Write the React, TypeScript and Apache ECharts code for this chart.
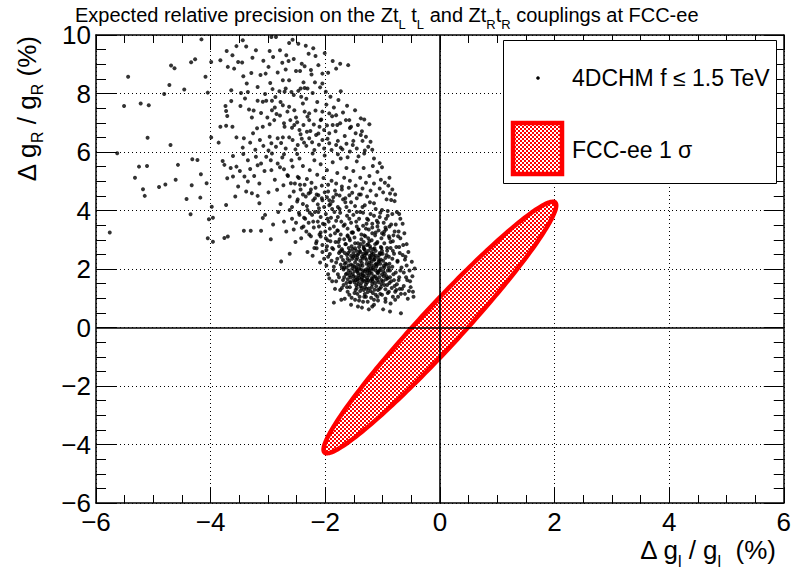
import { useEffect, useRef } from "react";
import * as echarts from "echarts";

// ---------- axis ranges ----------
const X_MIN = -6;
const X_MAX = 6;
const Y_MIN = -6;
const Y_MAX = 10;
const TICK_STEP = 2;

// ---------- FCC-ee 1 sigma ellipse (centre, sigma_x, sigma_y, correlation) ----------
const ellipseCenter = [0, 0];
const ellipseSigmaX = 2.03;
const ellipseSigmaY = 4.3;
const ellipseRho = 0.9705;

// ---------- 4DCHM scan points [dgL/gL, dgR/gR] in % ----------
const sparseLeft = [
  [-5.44, 8.57], [-5.76, 3.25], [-5.63, 5.96], [-5.51, 7.57], [-5.22, 7.66], [-5.08, 7.6], [-5.1, 6.49],
  [-5.25, 5.5], [-5.11, 5.52], [-5.32, 5.12], [-5.18, 4.73], [-5.15, 4.5], [-4.9, 4.8], [-4.79, 4.89],
  [-4.72, 8.29], [-4.69, 8.96], [-4.63, 8.86], [-4.81, 7.98], [-4.7, 6.24], [-4.57, 5.56], [-4.61, 5.05],
  [-4.46, 8.14], [-4.42, 4.39], [-4.35, 3.87], [-4.34, 9.07], [-4.27, 9.17], [-4.32, 5.75], [-4.33, 4.86],
  [-4.23, 5.73], [-4.17, 5.24], [-4.18, 4.44], [-4.16, 9.85], [-4.09, 8.57], [-4.07, 4.93], [-4.05, 8.03],
  [-4.05, 3.05], [-4.03, 3.7], [-3.99, 9.08], [-3.99, 6.5], [-3.98, 4.13], [-3.96, 3.75], [-3.96, 2.93],
];

const upperCloud = [
  [-3.83, 9.14], [-3.72, 9.45], [-3.7, 8.91], [-3.59, 8.85], [-3.52, 9.08], [-3.45, 9.06], [-3.44, 9.82],
  [-3.38, 9.61], [-3.43, 8.59], [-3.37, 8.34], [-3.29, 8.7], [-3.13, 8.63], [-3.04, 8.68], [-2.97, 9.45],
  [-2.94, 9.93], [-2.86, 9.93], [-2.79, 9.48], [-2.68, 9.31], [-2.64, 9.11], [-2.63, 9.73], [-2.57, 9.84],
  [-2.47, 9.7], [-2.34, 9.63], [-2.29, 9.36], [-2.17, 9.28], [-2.51, 8.77], [-2.44, 8.77], [-2.74, 8.45],
  [-2.63, 8.45], [-2.38, 8.38], [-2.25, 8.8], [-2.24, 8.65], [-2.05, 8.68], [-2.18, 8.38], [-2.05, 8.34],
  [-1.87, 9.11], [-1.81, 8.85], [-1.74, 9.02], [-1.6, 8.97], [-1.73, 8.08], [-2.92, 8.15], [-2.8, 8.08],
  [-2.71, 8.06], [-2.59, 8.05], [-2.43, 8.17], [-2.36, 8.19], [-2.31, 8.17], [-3.64, 8.11], [-3.47, 8.02],
  [-1.99, 8.06], [-3.74, 7.57], [-3.64, 7.74], [-3.73, 7.4], [-3.71, 7.23], [-3.83, 6.86], [-3.73, 6.9],
  [-3.62, 6.86], [-3.86, 6.32], [-3.55, 6.5], [-3.42, 6.47], [-3.48, 7.57], [-3.4, 7.83], [-3.33, 7.45],
  [-3.28, 7.18], [-3.18, 7.75], [-3.09, 7.72], [-3.03, 7.75], [-2.93, 7.75], [-2.93, 7.43], [-2.85, 7.3],
  [-2.89, 7.09], [-2.97, 6.95], [-3.09, 6.86], [-3.19, 6.81], [-3.26, 6.64], [-3.14, 6.41], [-2.97, 6.52],
  [-2.94, 6.3], [-2.83, 6.47], [-2.74, 6.5], [-2.63, 6.5], [-2.71, 6.86], [-2.61, 7.09], [-2.51, 7.18],
  [-2.74, 7.6], [-2.63, 7.55], [-2.54, 7.43], [-2.42, 7.89], [-2.39, 7.66], [-2.28, 7.09], [-2.2, 6.94],
  [-2.1, 6.86], [-2.02, 6.75], [-1.93, 6.64], [-1.87, 6.92], [-1.79, 6.92], [-1.64, 7.09], [-1.58, 7.09],
  [-1.48, 7.43], [-1.38, 7.15], [-1.32, 7.11], [-1.23, 6.95], [-1.55, 6.86], [-1.47, 6.64], [-1.38, 6.58],
  [-1.25, 6.18], [-1.35, 6.38], [-1.52, 6.24], [-1.7, 6.09], [-1.81, 6.24], [-1.93, 6.3], [-2.05, 6.41],
  [-2.16, 6.58], [-2.28, 6.47], [-2.37, 6.32], [-2.48, 6.24], [-2.08, 7.09], [-2.32, 6.69], [-2.45, 6.75],
  [-2.54, 6.92], [-2.36, 7.38], [-2.28, 7.32], [-2.05, 7.38], [-1.93, 7.32], [-1.81, 7.26],
  [-3.62, 9.31], [-3.55, 9.62], [-3.27, 9.22], [-3.21, 9.48], [-3.08, 9.12], [-2.99, 8.91], [-2.91, 9.25],
  [-2.83, 8.72], [-2.75, 9.05], [-2.69, 8.82], [-2.55, 9.18], [-2.41, 9.02], [-2.36, 8.93], [-2.21, 9.55],
  [-2.12, 8.97], [-2.01, 9.38], [-1.95, 8.71], [-3.35, 8.05], [-3.18, 8.22], [-3.05, 7.98], [-2.96, 8.36],
  [-2.87, 7.88], [-2.78, 7.71], [-2.69, 8.17], [-2.55, 7.95], [-2.47, 8.09], [-2.33, 7.82], [-2.22, 8.02],
  [-2.14, 7.71], [-2.09, 8.21], [-1.98, 7.62], [-1.91, 7.89], [-1.85, 7.52], [-1.77, 7.78], [-1.69, 7.35],
  [-1.62, 7.58], [-3.25, 7.42], [-3.12, 7.33], [-3.01, 7.18], [-2.88, 7.52], [-2.79, 7.25], [-2.72, 6.98],
  [-2.66, 7.38], [-2.58, 6.83], [-2.49, 7.02], [-2.43, 6.61], [-2.38, 6.92], [-2.31, 7.21], [-2.26, 6.72],
  [-2.17, 7.42], [-2.12, 6.63], [-2.07, 7.11], [-1.97, 6.91], [-1.88, 7.22], [-1.82, 6.71], [-1.74, 6.98],
  [-1.66, 6.55], [-1.57, 6.82], [-1.51, 6.38], [-1.43, 6.92], [-1.36, 6.71], [-1.29, 6.52], [-1.21, 6.35],
  [-3.44, 6.15], [-3.31, 6.32], [-3.22, 6.08], [-3.08, 6.21], [-2.99, 6.05], [-2.86, 6.18], [-2.77, 6.31],
  [-2.69, 6.12], [-2.57, 6.41], [-2.52, 6.09], [-2.41, 6.45], [-2.33, 6.21], [-2.23, 6.33], [-2.19, 6.07],
  [-2.11, 6.25], [-2.02, 6.12], [-1.96, 6.45], [-1.89, 6.07], [-1.78, 6.38], [-1.73, 6.15], [-1.63, 6.28],
  [-1.57, 6.02], [-1.45, 6.12], [-1.31, 6.05], [-1.18, 6.08],
];

const middleBand = [
  [-3.79, 5.69], [-3.76, 5.56], [-3.71, 5.1], [-3.61, 5.16], [-3.55, 5.5], [-3.41, 5.16], [-3.35, 4.99],
  [-3.28, 4.59], [-3.18, 4.5], [-3.61, 5.86], [-3.43, 5.93], [-3.21, 5.84], [-3.12, 5.61], [-3.03, 5.84],
  [-2.94, 5.38], [-2.93, 5.95], [-2.83, 5.61], [-2.75, 5.81], [-2.72, 5.41], [-2.65, 5.18], [-2.6, 4.93],
  [-2.57, 5.5], [-2.49, 5.93], [-2.46, 5.11], [-3.73, 4.19], [-3.57, 4.48], [-3.38, 4.65],
  [-3.52, 4.82], [-3.31, 5.42], [-3.24, 5.18], [-3.15, 4.92], [-3.06, 5.35], [-2.99, 4.62], [-2.88, 5.05],
  [-2.84, 4.71], [-2.79, 5.48], [-2.73, 4.86], [-2.66, 5.21], [-2.62, 4.48], [-2.59, 5.72], [-2.53, 4.92],
  [-2.48, 5.15], [-2.43, 4.72], [-2.39, 5.52], [-2.36, 4.88], [-2.32, 5.08], [-2.29, 4.58], [-2.27, 5.38],
  [-2.24, 4.95], [-2.19, 5.72], [-2.17, 4.78], [-2.14, 5.22], [-2.12, 4.52], [-2.08, 5.58], [-2.06, 4.85],
  [-2.03, 5.11], [-2.01, 4.62], [-1.97, 5.38], [-1.95, 4.88], [-1.93, 4.35], [-1.89, 5.02], [-1.87, 5.65],
  [-1.83, 4.68], [-1.81, 4.92], [-1.79, 5.28], [-1.75, 4.51], [-1.73, 5.78], [-1.71, 4.82], [-1.67, 5.12],
  [-1.65, 4.42], [-1.63, 5.45], [-1.59, 4.78], [-1.57, 5.02], [-1.53, 4.61], [-1.51, 5.35], [-1.47, 4.85],
  [-1.45, 5.68], [-1.41, 4.55], [-1.39, 5.12], [-1.35, 4.75], [-1.33, 5.45], [-1.29, 4.95], [-1.27, 4.48],
  [-1.23, 5.18], [-1.21, 4.68], [-1.17, 5.52], [-1.15, 4.92], [-1.11, 4.52], [-1.09, 5.32], [-1.05, 4.75],
  [-1.03, 5.05], [-0.99, 4.62], [-0.96, 4.95], [-0.93, 4.38], [-0.9, 4.85], [-0.87, 4.58], [-0.83, 4.72],
  [-0.78, 4.55], [-1.32, 5.95], [-1.42, 5.85], [-1.61, 5.82], [-1.78, 5.92], [-2.01, 5.88], [-2.22, 5.95],
  [-2.45, 5.78], [-2.72, 5.92], [-2.95, 5.72], [-3.18, 5.55], [-3.35, 5.72], [-3.49, 5.35], [-3.65, 5.45],
  [-1.15, 5.78], [-1.05, 5.62], [-1.01, 5.48], [-0.88, 5.12], [-0.85, 4.36],
];

const lowerBand = [
  [-2.45, 3.85], [-2.32, 4.15], [-2.21, 3.62], [-2.38, 3.45], [-2.12, 3.95], [-2.05, 4.35], [-1.96, 3.72],
  [-1.88, 4.05], [-2.28, 3.18], [-1.92, 3.38], [-1.81, 3.65], [-2.55, 3.35], [-2.62, 4.02], [-2.18, 4.42],
  [-1.74, 3.92], [-1.68, 3.48], [-2.08, 3.25], [-1.62, 3.82], [-1.55, 3.58], [-1.48, 4.15], [-1.41, 3.72],
  [-1.86, 4.45], [-2.35, 3.72], [-2.72, 3.62], [-2.15, 2.95], [-1.77, 2.92], [-2.01, 3.52], [-1.34, 3.92],
  [-1.28, 3.55], [-1.22, 4.28], [-1.15, 3.82], [-1.08, 3.58], [-1.01, 4.02], [-0.94, 3.72], [-0.88, 3.45],
  [-0.83, 3.88], [-0.77, 3.52], [-0.72, 3.28], [-0.75, 3.95], [-0.69, 3.72], [-0.81, 3.15], [-0.95, 3.42],
  [-1.12, 3.25], [-1.45, 3.45], [-1.65, 4.28], [-1.95, 4.65], [-2.25, 4.72], [-2.48, 4.38], [-2.58, 3.72],
  [-2.68, 3.28], [-2.82, 3.95], [-2.91, 3.52], [-3.05, 3.85], [-3.15, 4.25], [-2.78, 4.22], [-2.42, 3.05],
  [-2.19, 2.72], [-1.86, 2.68], [-2.31, 2.58], [-2.52, 2.92], [-2.62, 2.52], [-2.77, 2.26], [-2.95, 3.02],
  [-3.12, 3.31], [-3.3, 3.31], [-3.42, 3.31], [-3.09, 3.74], [-1.58, 4.52], [-1.38, 4.55], [-1.71, 4.72],
  [-1.52, 3.25], [-1.32, 3.15], [-1.18, 3.55], [-1.05, 3.78], [-0.98, 3.18], [-1.25, 3.68], [-1.45, 3.95],
  [-1.61, 3.15], [-1.83, 3.22], [-1.99, 3.05], [-2.11, 3.45], [-2.27, 3.92], [-2.39, 4.55], [-2.13, 4.21],
  [-1.91, 4.22], [-1.78, 4.12], [-1.58, 3.98], [-1.35, 4.12], [-1.12, 4.05], [-0.91, 3.98], [-0.79, 4.32],
  [-0.71, 3.88], [-0.65, 3.55], [-0.62, 3.22], [-0.69, 3.05], [-0.58, 2.85], [-0.55, 2.58], [-0.61, 2.32],
  [-0.49, 2.25], [-3.76, 3.06], [-3.7, 3.11],
];

const denseBand = [
  [-2.58, 4.12], [-2.55, 4.65], [-2.51, 3.58], [-2.49, 4.31], [-2.46, 3.92], [-2.44, 4.88], [-2.41, 3.41],
  [-2.39, 4.22], [-2.37, 3.75], [-2.34, 4.48], [-2.33, 3.28], [-2.31, 4.02], [-2.29, 3.58], [-2.26, 4.62],
  [-2.25, 3.12], [-2.23, 3.85], [-2.21, 4.35], [-2.2, 3.42], [-2.18, 3.95], [-2.16, 2.88], [-2.15, 4.55],
  [-2.13, 3.62], [-2.11, 4.08], [-2.1, 3.18], [-2.08, 3.78], [-2.06, 4.42], [-2.05, 2.82], [-2.04, 3.55],
  [-2.02, 4.12], [-2.0, 3.28], [-1.99, 3.88], [-1.97, 4.45], [-1.96, 2.98], [-1.94, 3.62], [-1.93, 4.18],
  [-1.91, 3.15], [-1.9, 3.75], [-1.88, 2.72], [-1.87, 4.32], [-1.85, 3.45], [-1.84, 3.95], [-1.82, 2.92],
  [-1.81, 4.55], [-1.79, 3.32], [-1.78, 3.78], [-1.76, 2.78], [-1.75, 4.05], [-1.73, 3.18], [-1.72, 3.62],
  [-1.7, 2.62], [-1.69, 4.38], [-1.67, 3.02], [-1.66, 3.52], [-1.64, 2.85], [-1.63, 4.12], [-1.61, 3.38],
  [-1.6, 2.55], [-1.58, 3.72], [-1.57, 2.98], [-1.55, 4.28], [-1.54, 3.25], [-1.52, 2.68], [-1.51, 3.85],
  [-1.49, 3.08], [-1.48, 2.45], [-1.46, 3.62], [-1.45, 4.42], [-1.43, 2.88], [-1.42, 3.35], [-1.4, 2.62],
  [-1.39, 3.95], [-1.37, 3.02], [-1.36, 2.42], [-1.34, 3.48], [-1.33, 2.78], [-1.31, 4.18], [-1.3, 3.12],
  [-1.28, 2.52], [-1.27, 3.72], [-1.25, 2.85], [-1.24, 3.35], [-1.22, 2.38], [-1.21, 3.88], [-1.19, 2.98],
  [-1.18, 3.42], [-1.16, 2.68], [-1.15, 4.25], [-1.13, 3.15], [-1.12, 2.45], [-1.1, 3.65], [-1.09, 2.92],
  [-1.07, 3.32], [-1.06, 2.28], [-1.04, 3.92], [-1.03, 2.75], [-1.01, 3.22], [-1.0, 2.52], [-0.98, 3.58],
  [-0.97, 2.88], [-0.95, 2.18], [-0.94, 3.35], [-0.92, 2.62], [-0.91, 3.82], [-0.89, 2.42], [-0.88, 3.05],
  [-0.86, 2.72], [-0.85, 3.52], [-0.83, 2.08], [-0.82, 2.95], [-0.8, 2.52], [-0.79, 3.28], [-0.77, 1.88],
  [-0.76, 2.75], [-0.74, 2.25], [-0.73, 3.12], [-0.71, 1.72], [-0.7, 2.55], [-0.67, 2.05], [-0.66, 1.32],
  [-0.64, 2.82], [-0.63, 1.88], [-0.61, 1.15], [-0.6, 2.42], [-0.57, 1.62], [-0.56, 0.98], [-0.53, 1.95],
  [-0.51, 1.38], [-0.48, 1.75], [-0.47, 1.22],
];

const coreCluster = [
  [-1.31, 1.92], [-1.25, 2.05], [-1.42, 1.78], [-1.18, 1.65], [-1.36, 2.21], [-1.52, 2.12], [-1.09, 1.88],
  [-1.27, 1.54], [-1.46, 1.45], [-1.61, 2.35], [-1.15, 2.32], [-1.02, 1.49], [-1.39, 2.58], [-1.21, 2.71],
  [-1.56, 1.71], [-0.98, 2.11], [-1.33, 1.28], [-1.68, 1.98], [-1.12, 1.12], [-0.91, 1.68], [-1.48, 2.88],
  [-1.74, 2.61], [-1.05, 2.55], [-0.87, 1.95], [-1.63, 1.52], [-1.29, 1.05], [-1.44, 1.15], [-0.95, 1.31],
  [-1.81, 2.22], [-1.23, 2.95], [-1.58, 3.05], [-0.83, 2.35], [-1.71, 1.35], [-1.08, 0.92], [-0.79, 1.42],
  [-1.92, 2.51], [-1.37, 3.18], [-0.92, 2.72], [-1.19, 1.38], [-1.34, 1.62], [-1.41, 2.02], [-1.17, 1.98],
  [-1.28, 2.31], [-1.49, 1.92], [-1.06, 1.72], [-1.55, 2.45], [-1.11, 2.18], [-1.24, 1.78], [-1.38, 1.41],
  [-1.62, 1.85], [-0.99, 1.58], [-1.44, 2.38], [-1.32, 2.68], [-1.16, 2.52], [-1.51, 1.62], [-1.26, 1.21],
  [-1.03, 2.02], [-1.66, 2.18], [-0.89, 1.22], [-1.22, 2.45], [-1.47, 1.28], [-1.13, 1.52], [-1.59, 2.72],
  [-1.35, 1.85], [-1.19, 2.12], [-1.43, 1.58], [-1.08, 2.38], [-1.27, 1.69], [-1.53, 2.01], [-0.96, 1.85],
  [-1.72, 2.42], [-1.14, 1.29], [-1.38, 2.85], [-1.01, 2.62], [-1.57, 1.38], [-0.85, 1.58], [-1.31, 1.38],
  [-1.46, 2.62], [-1.2, 1.02], [-1.65, 2.85], [-0.93, 2.48], [-1.78, 1.82], [-1.1, 2.88], [-1.4, 1.05],
  [-0.81, 1.82], [-1.85, 2.08], [-1.25, 3.05], [-1.52, 3.25], [-0.88, 2.18], [-1.69, 1.62], [-1.04, 1.15],
  [-1.34, 0.88], [-0.76, 1.28], [-1.97, 2.78], [-1.18, 3.22], [-0.72, 1.62], [-1.61, 3.12], [-0.95, 0.98],
  [-1.48, 0.95], [-1.88, 1.58], [-0.69, 1.95], [-1.29, 3.38], [-0.82, 2.62], [-1.75, 3.02], [-1.02, 3.05],
  [-0.68, 1.15], [-1.58, 1.12], [-1.91, 2.95], [-0.74, 2.28], [-1.83, 1.32], [-1.15, 0.78], [-0.63, 1.42],
  [-2.02, 2.35], [-1.42, 3.35], [-0.86, 2.92], [-1.66, 0.98], [-0.59, 1.72], [-2.08, 3.11], [-0.97, 3.28],
  [-1.36, 0.68], [-0.65, 2.48], [-1.95, 1.82], [-0.78, 0.95], [-1.78, 3.31], [-0.54, 1.25], [-2.15, 2.71],
  [-1.09, 3.45], [-0.58, 2.12], [-1.24, 0.62], [-1.98, 2.12], [-0.71, 2.75], [-1.85, 0.85], [-0.68, 0.49],
  [-0.46, 1.05], [-0.44, 2.02], [-0.52, 1.58], [-1.55, 0.78], [-0.89, 3.12], [-2.22, 2.45], [-1.98, 2.65],
  [-1.22, 1.88], [-1.35, 2.11], [-1.13, 1.74], [-1.48, 2.22], [-1.29, 1.47], [-1.07, 2.25], [-1.41, 1.69],
  [-1.19, 2.58], [-1.56, 1.88], [-1.01, 1.81], [-1.32, 2.45], [-1.45, 1.35], [-1.16, 2.05], [-1.27, 2.82],
  [-1.63, 2.05], [-0.94, 1.65], [-1.38, 1.98], [-1.24, 1.33], [-1.51, 2.55], [-1.11, 1.41], [-1.33, 2.72],
  [-1.43, 1.87], [-1.06, 2.48], [-1.58, 2.28], [-1.21, 1.59], [-1.37, 1.52], [-0.99, 2.28], [-1.69, 2.31],
  [-1.14, 2.71], [-1.28, 2.18], [-1.47, 1.72], [-1.03, 1.38], [-1.61, 1.65], [-1.25, 2.62], [-1.39, 1.25],
  [-1.12, 1.95], [-1.53, 2.35], [-0.97, 2.05], [-1.31, 1.75], [-1.44, 2.48], [-1.17, 1.18], [-1.66, 2.55],
  [-1.09, 1.62], [-1.35, 2.35], [-1.23, 2.22], [-1.49, 1.55], [-1.02, 2.72], [-1.57, 2.62], [-1.19, 1.85],
  [-1.41, 2.75], [-1.31, 1.15], [-1.05, 1.95], [-1.73, 2.15], [-0.92, 1.45], [-1.26, 1.95], [-1.46, 2.05],
  [-1.15, 2.41], [-1.37, 1.65], [-1.62, 2.48], [-1.08, 1.28], [-1.52, 1.82], [-1.29, 2.55], [-0.95, 2.38],
  [-1.42, 1.48], [-1.21, 2.35], [-1.67, 1.72], [-1.12, 2.62], [-1.34, 1.95], [-1.55, 2.15], [-0.91, 1.95],
  [-1.27, 1.85], [-1.48, 2.71], [-1.18, 1.48], [-1.76, 2.55], [-1.04, 2.18], [-1.39, 2.28], [-1.59, 1.95],
  [-1.13, 2.85], [-0.87, 1.72], [-1.32, 1.58], [-1.22, 2.78], [-1.45, 1.98], [-1.07, 1.55], [-1.64, 2.22],
  [-1.19, 2.25], [-1.36, 1.72], [-0.98, 1.75], [-1.51, 2.42], [-1.28, 1.32], [-1.11, 2.08], [-1.71, 2.68],
  [-1.43, 2.15], [-1.25, 1.62], [-1.03, 2.52], [-1.57, 1.55], [-1.33, 2.92], [-1.16, 1.75], [-1.49, 2.08],
  [-0.93, 2.15], [-1.62, 1.38], [-1.24, 2.15], [-1.38, 1.82], [-1.09, 2.15], [-1.54, 2.78], [-1.19, 1.68],
  [-1.42, 2.52], [-1.29, 1.98], [-1.67, 2.05], [-1.02, 1.62], [-1.47, 1.62], [-1.14, 2.32], [-1.34, 2.52],
  [-0.89, 2.05], [-1.58, 1.78], [-1.21, 2.02], [-1.44, 1.92], [-1.08, 1.85], [-1.31, 2.65],
  [-1.76, 1.72], [-1.71, 2.05], [-1.68, 1.45], [-1.64, 1.82], [-1.61, 1.22], [-1.59, 2.12], [-1.56, 1.55],
  [-1.54, 1.02], [-1.51, 1.75], [-1.49, 1.18], [-1.46, 2.32], [-1.44, 1.65], [-1.41, 0.92], [-1.39, 2.12],
  [-1.37, 1.35], [-1.34, 1.78], [-1.32, 1.05], [-1.3, 2.38], [-1.28, 1.62], [-1.26, 0.88], [-1.23, 1.95],
  [-1.21, 1.25], [-1.19, 2.48], [-1.17, 1.58], [-1.15, 0.95], [-1.13, 2.15], [-1.11, 1.68], [-1.09, 1.05],
  [-1.07, 1.92], [-1.05, 1.32], [-1.03, 2.32], [-1.01, 1.12], [-0.99, 1.92], [-0.97, 1.45], [-0.95, 0.88],
  [-0.93, 1.75], [-0.91, 1.18], [-0.88, 1.52], [-0.86, 0.82], [-0.84, 1.35], [-0.82, 1.05], [-0.8, 1.62],
  [-0.78, 1.22], [-0.75, 1.48], [-0.73, 1.05], [-0.7, 1.32], [-1.81, 1.58], [-1.85, 1.95], [-1.89, 2.28],
  [-1.93, 1.68], [-1.79, 2.35], [-1.74, 1.28], [-1.95, 2.42], [-2.05, 2.58], [-2.09, 2.22], [-1.72, 0.95],
  [-1.43, 0.72], [-1.18, 0.72], [-0.99, 0.62], [-0.87, 0.55],
];

const scanPoints = [...sparseLeft, ...upperCloud, ...middleBand, ...lowerBand, ...denseBand, ...coreCluster];

// ---------- texts ----------
const FONT = "'Liberation Sans', Arial, Helvetica, sans-serif";
const minus = (v: number) => (v < 0 ? "\u2212" + Math.abs(v) : String(v));

function makePattern() {
  const c = document.createElement("canvas");
  c.width = 4;
  c.height = 4;
  const ctx = c.getContext("2d")!;
  ctx.fillStyle = "#ffffff";
  ctx.fillRect(0, 0, 4, 4);
  ctx.fillStyle = "#ff0000";
  ctx.fillRect(0, 0, 2, 2);
  ctx.fillRect(2, 2, 2, 2);
  return { image: c, repeat: "repeat", imageWidth: 4, imageHeight: 4 } as any;
}

export default function App() {
  const ref = useRef<HTMLDivElement>(null);
  useEffect(() => {
    if (!ref.current) return;
    const chart = echarts.init(ref.current, undefined, { renderer: "svg" });
    const pattern = makePattern();
    const alpha = Math.acos(ellipseRho);

    const axisCommon = {
      type: "value",
      interval: TICK_STEP,
      axisLine: { show: true, onZero: false, lineStyle: { color: "#000", width: 1.5 } },
      axisTick: { show: true, inside: true, lineStyle: { color: "#000", width: 1 } },
      minorTick: { show: true, splitNumber: 4, lineStyle: { color: "#000", width: 1 } },
    };

    const main = (size: number, lh: number) => ({ fontSize: size, fontFamily: FONT, fill: "#000", lineHeight: lh });
    const sub = (size: number, shift: number) => ({
      fontSize: size,
      fontFamily: FONT,
      fill: "#000",
      lineHeight: 4,
      padding: [shift * 2, 0, 0, 0],
    });

    chart.setOption({
      animation: false,
      backgroundColor: "#fff",
      grid: { left: 96, top: 35, right: 9, bottom: 67, show: false },
      xAxis: [
        {
          ...axisCommon,
          min: X_MIN,
          max: X_MAX,
          position: "bottom",
          axisTick: { ...axisCommon.axisTick, length: 15 },
          minorTick: { ...axisCommon.minorTick, length: 8 },
          axisLabel: { color: "#000", fontSize: 26, lineHeight: 22, fontFamily: FONT, margin: 8, formatter: minus },
          splitLine: { show: true, lineStyle: { color: "#000", width: 1, type: [1, 3] } },
        },
        {
          ...axisCommon,
          min: X_MIN,
          max: X_MAX,
          position: "top",
          axisTick: { ...axisCommon.axisTick, length: 15 },
          minorTick: { ...axisCommon.minorTick, length: 8 },
          axisLabel: { show: false },
          splitLine: { show: false },
        },
      ],
      yAxis: [
        {
          ...axisCommon,
          min: Y_MIN,
          max: Y_MAX,
          position: "left",
          axisTick: { ...axisCommon.axisTick, length: 20 },
          minorTick: { ...axisCommon.minorTick, length: 10 },
          axisLabel: { color: "#000", fontSize: 26, lineHeight: 22, fontFamily: FONT, margin: 5, formatter: minus },
          splitLine: { show: true, lineStyle: { color: "#000", width: 1, type: [1, 3] } },
        },
        {
          ...axisCommon,
          min: Y_MIN,
          max: Y_MAX,
          position: "right",
          axisTick: { ...axisCommon.axisTick, length: 20 },
          minorTick: { ...axisCommon.minorTick, length: 10 },
          axisLabel: { show: false },
          splitLine: { show: false },
        },
      ],
      series: [
        {
          type: "custom",
          xAxisIndex: 0,
          yAxisIndex: 0,
          z: 2,
          silent: true,
          data: [ellipseCenter],
          renderItem: (_params: any, api: any) => {
            const cx = api.value(0);
            const cy = api.value(1);
            const pts: number[][] = [];
            const n = 240;
            for (let k = 0; k < n; k++) {
              const t = (2 * Math.PI * k) / n;
              pts.push(api.coord([cx + ellipseSigmaX * Math.cos(t), cy + ellipseSigmaY * Math.cos(t - alpha)]));
            }
            return {
              type: "polygon",
              shape: { points: pts },
              style: { fill: pattern, stroke: "#ff0000", lineWidth: 4.5 },
            };
          },
        },
        {
          type: "scatter",
          xAxisIndex: 0,
          yAxisIndex: 0,
          z: 3,
          silent: true,
          symbol: "circle",
          symbolSize: 4,
          itemStyle: { color: "#000" },
          data: scanPoints,
          markLine: {
            silent: true,
            symbol: "none",
            label: { show: false },
            lineStyle: { color: "#000", width: 1.6, type: "solid" },
            data: [{ xAxis: 0 }, { yAxis: 0 }],
          },
        },
      ],
      graphic: [
        {
          type: "text",
          x: 75,
          y: 15,
          z: 10,
          style: {
            text:
              "{a|Expected relative precision on the Zt}{s|L}{a| t}{s|L}{a| and Zt}{s|R}{a|t}{s|R}{a| couplings at FCC-ee}",
            rich: { a: main(20, 20), s: sub(13, 9) },
            align: "left",
            verticalAlign: "middle",
          },
        },
        {
          type: "text",
          x: 776,
          y: 550,
          z: 10,
          style: {
            text: "{a|\u0394 g}{s|l}{a| / g}{s|l}{a|  (%)}",
            rich: { a: main(26, 26), s: sub(16, 11) },
            align: "right",
            verticalAlign: "middle",
          },
        },
        {
          type: "text",
          x: 27,
          y: 109,
          rotation: Math.PI / 2,
          z: 10,
          style: {
            text: "{a|\u0394 g}{s|R}{a| / g}{s|R}{a| (%)}",
            rich: { a: main(26, 26), s: sub(16, 10) },
            align: "center",
            verticalAlign: "middle",
          },
        },
        // legend
        {
          type: "rect",
          z: 10,
          shape: { x: 503.5, y: 40.5, width: 273, height: 143 },
          style: { fill: "#fff", stroke: "#000", lineWidth: 1 },
        },
        {
          type: "circle",
          z: 11,
          shape: { cx: 538, cy: 78, r: 1.8 },
          style: { fill: "#000" },
        },
        {
          type: "text",
          z: 11,
          x: 572,
          y: 78,
          style: { text: "4DCHM f \u2264 1.5 TeV", fontSize: 23, fontFamily: FONT, fill: "#000", align: "left", verticalAlign: "middle" },
        },
        {
          type: "rect",
          z: 11,
          shape: { x: 513, y: 123, width: 49, height: 51 },
          style: { fill: pattern, stroke: "#ff0000", lineWidth: 4.5 },
        },
        {
          type: "text",
          z: 11,
          x: 572,
          y: 150,
          style: { text: "FCC-ee 1 \u03c3", fontSize: 23, fontFamily: FONT, fill: "#000", align: "left", verticalAlign: "middle" },
        },
      ],
    });
    return () => chart.dispose();
  }, []);
  return <div ref={ref} style={{ position: "absolute", left: 0, top: 0, width: 794, height: 570 }} />;
}
